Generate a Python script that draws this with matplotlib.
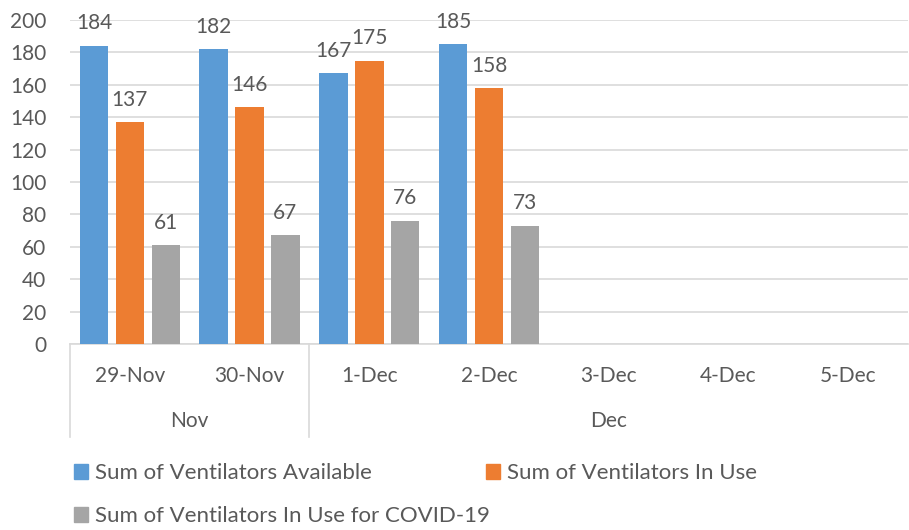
import matplotlib
matplotlib.use("Agg")
import matplotlib.pyplot as plt
import numpy as np
from matplotlib.patches import Patch

dates = ["29-Nov", "30-Nov", "1-Dec", "2-Dec", "3-Dec", "4-Dec", "5-Dec"]
months = ["Nov", "Dec"]
month_spans = [(0, 1), (2, 6)]
available = [184, 182, 167, 185, None, None, None]
in_use = [137, 146, 175, 158, None, None, None]
in_use_covid = [61, 67, 76, 73, None, None, None]
series_names = [
    "Sum of Ventilators Available",
    "Sum of Ventilators In Use",
    "Sum of Ventilators In Use for COVID-19",
]
colors = ["#5B9BD5", "#ED7D31", "#A5A5A5"]
y_ticks = list(range(0, 201, 20))

TEXT = "#595959"
GRID = "#D9D9D9"
FS = 15
plt.rcParams["font.family"] = ["Lato", "DejaVu Sans"]

fig = plt.figure(figsize=(9.09, 5.30), dpi=100)
W, H = 909, 530
ax = fig.add_axes([70 / W, (H - 344) / H, 838 / W, 324 / H])

x = np.arange(len(dates))
step = 0.30
width = 0.238
for i, (vals, color) in enumerate(zip([available, in_use, in_use_covid], colors)):
    offs = (i - 1) * step
    for xi, v in zip(x, vals):
        if v is None:
            continue
        ax.bar(xi + offs, v, width=width, color=color, zorder=3)
        ax.annotate(str(v), (xi + offs, v), xytext=(0, 9), textcoords="offset points",
                    ha="center", va="bottom", fontsize=FS, color=TEXT)

ax.set_xlim(-0.5, len(dates) - 0.5)
ax.set_ylim(0, 200)
ax.set_yticks(y_ticks)
ax.tick_params(axis="y", length=0, labelsize=FS, labelcolor=TEXT, pad=17)
ax.set_xticks([])
ax.grid(axis="y", color=GRID, linewidth=1.2, zorder=0)
for side in ["top", "right", "left"]:
    ax.spines[side].set_visible(False)
ax.spines["bottom"].set_color(GRID)
ax.spines["bottom"].set_linewidth(1.2)

# two-level category axis
tr = ax.get_xaxis_transform()
depth = -93 / 324
for xi, label in zip(x, dates):
    ax.text(xi, -32 / 324, label, transform=tr, ha="center", va="center",
            fontsize=FS, color=TEXT)
for (a, b), m in zip(month_spans, months):
    ax.text((a + b) / 2, -77 / 324, m, transform=tr, ha="center", va="center",
            fontsize=FS, color=TEXT)
for sep in [-0.5, 1.5]:
    ax.plot([sep, sep], [0, depth], transform=tr, color=GRID, lw=1.2, clip_on=False)

# legend: Excel-style flow, two entries in the first row, one in the second
handles = [Patch(color=c) for c in colors]
leg_kw = dict(loc="upper left", frameon=False, fontsize=16, labelcolor=TEXT,
              handlelength=0.65, handleheight=0.65, handletextpad=0.3,
              labelspacing=1.05)
fig.legend([handles[0], handles[2]], [series_names[0], series_names[2]],
           bbox_to_anchor=(54 / W, 1 - 443 / H), **leg_kw)
fig.legend([handles[1]], [series_names[1]],
           bbox_to_anchor=(466 / W, 1 - 443 / H), **leg_kw)

fig.savefig("out.png", dpi=100)
